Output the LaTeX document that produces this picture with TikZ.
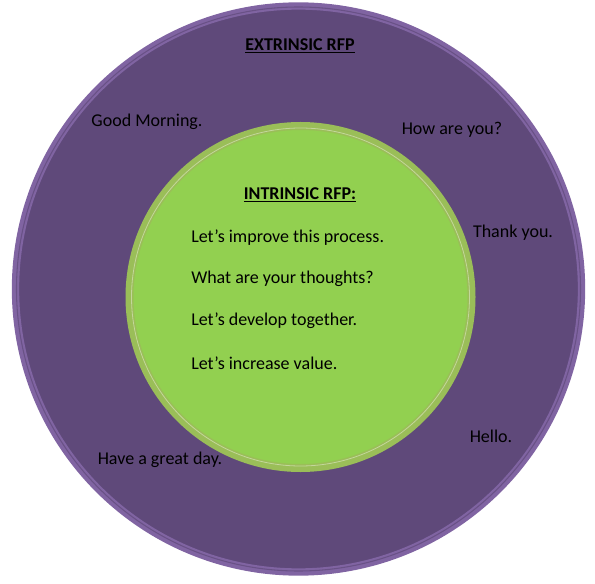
\documentclass[tikz,border=0pt]{standalone}
\usepackage{fontspec}
\setmainfont{Carlito}
\usepackage{xcolor}
\usetikzlibrary{positioning}
\definecolor{rfpplum}{HTML}{5F497A}
\definecolor{rfplilac}{HTML}{8064A2}
\definecolor{rfplime}{HTML}{92D050}
\definecolor{rfpolive}{HTML}{9BBB59}

\begin{document}
\begin{tikzpicture}[x=0.75pt,y=-0.75pt,
    every node/.style={font=\fontsize{13.5}{16}\selectfont,text=black,inner sep=0pt},
    ring/.style={circle,inner sep=0pt}]
  \useasboundingbox (0,0) rectangle (595,584);
  % outer circle
  \node[ring,fill=rfpplum,draw=rfplilac,line width=5.5pt,minimum size=424.5pt] (outer) at (298.5,289) {};
  \draw[rfpplum!70!rfplilac,line width=0.8pt] (outer.center) circle[radius=282];
  % inner circle
  \node[ring,fill=rfplime,draw=rfpolive!85!rfplime,line width=6pt,minimum size=256.5pt] (inner) at (300.5,297) {};
  \draw[rfpolive!60!white,line width=0.6pt] (inner.center) circle[radius=169];
  % outer texts
  \node (ext) at (300,46) {\underline{\textbf{EXTRINSIC RFP}}};
  \node (morning) at (147,122) {Good Morning.};
  \node (howru) at (452,130) {How are you?};
  \node (thanks) at (513,233) {Thank you.};
  \node (hello) at (491,436) {Hello.};
  \node (greatday) at (160,460) {Have a great day.};
  % inner texts
  \node (int) at (300,195) {\underline{\textbf{INTRINSIC RFP:}}};
  \node[anchor=west] (improve) at (191,238) {Let’s improve this process.};
  \node[anchor=west] (thoughts) at (191,279) {What are your thoughts?};
  \node[anchor=west] (develop) at (191,321) {Let’s develop together.};
  \node[anchor=west] (value) at (191,363) {Let’s increase value.};
\end{tikzpicture}
\end{document}
